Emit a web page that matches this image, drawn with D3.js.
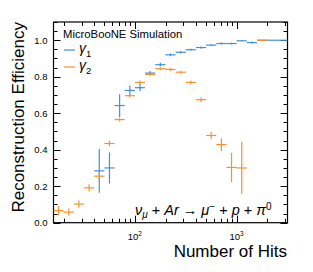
<!DOCTYPE html>
<html><head><meta charset="utf-8">
<script src="https://cdn.jsdelivr.net/npm/d3@7"></script>
<style>body{margin:0;background:#fff}svg{display:block;font-family:"Liberation Sans",Arial,sans-serif}</style>
</head><body><svg id="c" width="313" height="272"></svg>
<script>
// bin edges (number of hits), 0.1 decade bins
const binEdges = [15.85,19.95,25.12,31.62,39.81,50.12,63.10,79.43,100,125.9,158.5,199.5,251.2,316.2,398.1,501.2,631.0,794.3,1000,1259,1585,1995,2512,3162];
const gamma1 = [null,null,null,null,0.284,0.300,0.642,0.725,0.740,0.820,0.866,0.920,0.934,0.948,0.960,0.973,0.982,0.982,0.997,0.987,1.0,1.0,1.0];
const gamma1Err = [null,null,null,null,0.12,0.085,0.062,0.027,0.02,0.012,0.01,0.008,0.007,0.006,0.006,0.005,0.005,0.005,0.003,0.006,0,0,0];
const gamma2 = [0.066,0.058,0.102,0.191,0.255,0.434,0.565,0.696,0.769,0.813,0.844,0.840,0.825,0.769,0.674,0.478,0.428,0.303,0.300,null,1.0,null,null];
const gamma2Err = [0.025,0.02,0.02,0.02,0.023,0.015,0.01,0.01,0.01,0.008,0.008,0.008,0.008,0.01,0.012,0.02,0.035,0.08,0.143,null,0,null,null];
const yTicks = [0,0.2,0.4,0.6,0.8,1.0];
const xMajor = [100,1000];
const seriesNames = ["γ1","γ2"];
const colors = ["#3f90da","#f5922c"];

const svg = d3.select("#c");
const L=53.5,R=287.5,T=22,B=222.7;
const x = d3.scaleLog().domain([binEdges[0],binEdges[binEdges.length-1]]).range([L,R]);
const y = d3.scaleLinear().domain([0,1.1]).range([B,T]);

// ticks
const g = svg.append("g").attr("stroke","#000").attr("stroke-width",1);
const yMinor = d3.range(0,1.1001,0.05);
yMinor.forEach(v=>{
  const major = Math.abs(v*5-Math.round(v*5))<1e-6;
  const len = major?7:4;
  const yy = Math.round(y(v))+0.5;
  g.append("line").attr("x1",L).attr("x2",L+len).attr("y1",yy).attr("y2",yy);
  g.append("line").attr("x1",R).attr("x2",R-len).attr("y1",yy).attr("y2",yy);
});
const xMinor=[];
[10,100,1000].forEach(d=>{for(let i=1;i<10;i++){const v=d*i; if(v>binEdges[0]&&v<binEdges[binEdges.length-1]) xMinor.push(v);}});
xMinor.forEach(v=>{
  const major = xMajor.includes(v);
  const len = major?7:4;
  const xx = Math.round(x(v))+0.5;
  g.append("line").attr("x1",xx).attr("x2",xx).attr("y1",B).attr("y2",B-len);
  g.append("line").attr("x1",xx).attr("x2",xx).attr("y1",T).attr("y2",T+len);
});
svg.append("rect").attr("x",L).attr("y",T).attr("width",R-L).attr("height",B-T)
  .attr("fill","none").attr("stroke","#000").attr("stroke-width",1.2);

// tick labels
svg.append("g").selectAll("text").data(yTicks).join("text")
  .attr("x",47.5).attr("y",d=>y(d)+3.4).attr("text-anchor","end")
  .attr("font-size",9.5).attr("fill","#000").text(d=>d.toFixed(1));
xMajor.forEach(v=>{
  const t = svg.append("text").attr("x",x(v)).attr("y",240).attr("text-anchor","middle").attr("font-size",9.5);
  t.append("tspan").text("10");
  t.append("tspan").attr("dy",-4).attr("font-size",6.5).text(String(Math.round(Math.log10(v))));
});

// data
function drawSeries(vals,errs,color){
  const gg = svg.append("g").attr("stroke",color).attr("stroke-width",1.2).attr("fill","none");
  vals.forEach((v,i)=>{
    if(v===null) return;
    const x0=x(binEdges[i]), x1=x(binEdges[i+1]);
    const xc=x(Math.sqrt(binEdges[i]*binEdges[i+1]));
    gg.append("line").attr("x1",x0).attr("x2",x1).attr("y1",y(v)).attr("y2",y(v));
    const e=errs[i]||0;
    if(e>0) gg.append("line").attr("x1",xc).attr("x2",xc).attr("y1",y(Math.max(0,v-e))).attr("y2",y(Math.min(1,v+e)));
  });
}
drawSeries(gamma1,gamma1Err,colors[0]);
drawSeries(gamma2,gamma2Err,colors[1]);

// legend
svg.append("text").attr("x",63).attr("y",38).attr("font-size",11.3).attr("fill","#000").text("MicroBooNE Simulation");
seriesNames.forEach((n,i)=>{
  const ly = 50 + i*17;
  svg.append("line").attr("x1",64).attr("x2",75).attr("y1",ly).attr("y2",ly).attr("stroke",colors[i]).attr("stroke-width",1.2);
  const t = svg.append("text").attr("x",79).attr("y",ly+3).attr("font-size",14).attr("fill","#000");
  t.append("tspan").attr("font-style","italic").text(n[0]);
  t.append("tspan").attr("dy",4).attr("font-size",9.5).text(n.slice(1));
});

// reaction
const r = svg.append("text").attr("x",135).attr("y",215).attr("font-size",14.5).attr("fill","#000");
r.append("tspan").attr("font-style","italic").text("ν");
r.append("tspan").attr("font-style","italic").attr("dy",3).attr("font-size",10).text("μ");
r.append("tspan").attr("dy",-3).text(" + ");
r.append("tspan").attr("font-style","italic").text("Ar");
r.append("tspan").text(" → ");
r.append("tspan").attr("font-style","italic").text("μ");
r.append("tspan").attr("dy",-5).attr("font-size",10).text("−");
r.append("tspan").attr("dy",5).text(" + ");
r.append("tspan").attr("font-style","italic").text("p");
r.append("tspan").text(" + ");
r.append("tspan").attr("font-style","italic").text("π");
r.append("tspan").attr("dy",-5).attr("font-size",10).text("0");

// axis titles
svg.append("text").attr("x",287).attr("y",257).attr("text-anchor","end").attr("font-size",17).text("Number of Hits");
svg.append("text").attr("transform","translate(24,22) rotate(-90)").attr("text-anchor","end").attr("font-size",17).text("Reconstruction Efficiency");
</script></body></html>
